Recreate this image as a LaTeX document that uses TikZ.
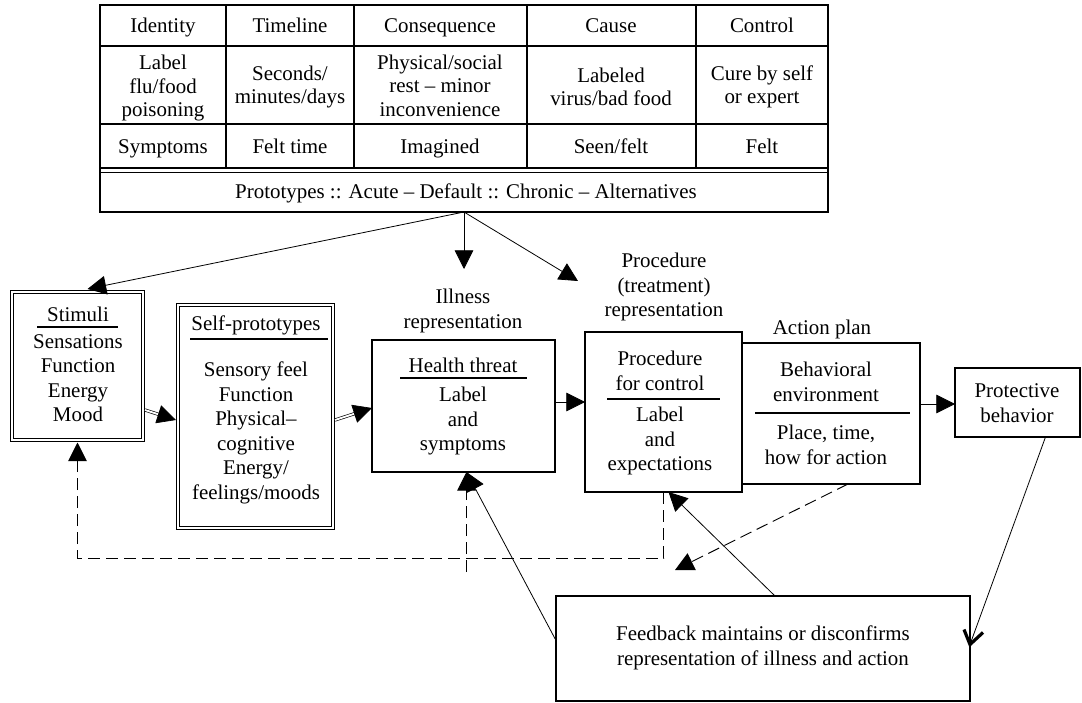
\documentclass[tikz,border=0pt]{standalone}
\usepackage{fontspec}
\setmainfont{Liberation Serif}
\usetikzlibrary{arrows.meta,calc}
\begin{document}
\begin{tikzpicture}[x=0.75pt,y=-0.75pt,
  every node/.style={inner sep=0pt, outer sep=0pt},
  txt/.style={font=\fontsize{15.7}{18.4}\selectfont, align=center},
  ttxt/.style={font=\fontsize{15.7}{17.6}\selectfont, align=center},
  one/.style={text height=10.8pt, text depth=3.4pt},
  box/.style={draw, line width=0.9pt},
  dbox/.style={draw, double, double distance=1.6pt, line width=0.75pt},
  conn/.style={line width=0.6pt},
  tip/.style={-{Triangle[length=14pt,width=14pt]}},
  dtip/.style={double, double distance=1.4pt, line width=0.5pt, -{Triangle[length=14pt,width=14pt]}},
  dashedline/.style={dash pattern=on 9pt off 4.5pt, line width=0.7pt},
  vhead/.style={line width=2.4pt, line join=miter, line cap=butt},
  rule/.style={line width=0.8pt}
]
\useasboundingbox (0,0) rectangle (1082,703);

% ---------- table ----------
\draw[line width=0.9pt] (100,5) rectangle (828,212);
\foreach \y in {46,124} \draw[line width=0.9pt] (100,\y) -- (828,\y);
\draw[line width=1.4pt] (100,168) -- (828,168);
\draw[line width=1.2pt] (100,172.5) -- (828,172.5);
\foreach \x in {226,354,527,696} \draw[line width=0.9pt] (\x,5) -- (\x,168);

\node[ttxt,one] (h1) at (163,28) {Identity};
\node[ttxt,one] (h2) at (290,28) {Timeline};
\node[ttxt,one] (h3) at (440,28) {Consequence};
\node[ttxt,one] (h4) at (611,28) {Cause};
\node[ttxt,one] (h5) at (762,28) {Control};

\node[ttxt] (r1) at (163,88) {Label\\flu/food\\poisoning};
\node[ttxt] (r2) at (290,87) {Seconds/\\minutes/days};
\node[ttxt] (r3) at (440,89) {Physical/social\\rest -- minor\\inconvenience\strut};
\node[ttxt] (r4) at (611,87) {Labeled\\virus/bad food};
\node[ttxt] (r5) at (762,87) {Cure by self\\or expert};

\node[ttxt,one] (s1) at (163,149) {Symptoms};
\node[ttxt,one] (s2) at (290,149) {Felt time};
\node[ttxt,one] (s3) at (440,149) {Imagined};
\node[ttxt,one] (s4) at (611,149) {Seen/felt};
\node[ttxt,one] (s5) at (762,149) {Felt};

\node[ttxt,one] (proto) at (466,194) {Prototypes :: Acute -- Default :: Chronic -- Alternatives};

% ---------- boxes ----------
\node[dbox, minimum width=98.25pt, minimum height=111pt] (stim) at (77.5,366) {};
\node[dbox, minimum width=116.25pt, minimum height=167.25pt] (self) at (255.5,416.5) {};
\node[box, minimum width=137.25pt, minimum height=99pt] (ill) at (463.5,406) {};
\node[box, minimum width=117.75pt, minimum height=120pt] (proc) at (663.5,412) {};
\node[box, minimum width=133.5pt, minimum height=105.75pt] (act) at (831,413.5) {};
\node[box, minimum width=93.75pt, minimum height=51.75pt] (prot) at (1017.5,402.5) {};
\node[box, minimum width=310.5pt, minimum height=78.75pt] (fb) at (763,648.5) {};

% ---------- texts ----------
\node[txt,one] (stimt) at (78,317) {Stimuli};
\draw[rule] (37,327) -- (118,327);
\node[txt] (stiml) at (78,378) {Sensations\\Function\\Energy\\Mood};

\node[txt,one] (selft) at (256,326) {Self-prototypes};
\draw[rule] (190,339) -- (328,339);
\node[txt] (selfl) at (256,433) {Sensory feel\\Function\\Physical--\\cognitive\\Energy/\\feelings/moods};

\node[txt] (illl) at (463,311) {Illness\\representation};
\node[txt,one] (illt) at (463,368) {Health threat};
\draw[rule] (400,378) -- (527,378);
\node[txt] (illb) at (463,421) {Label\\and\\symptoms};

\node[txt] (procl) at (664,287) {Procedure\\(treatment)\\representation};
\node[txt] (proct) at (660,371) {Procedure\\for control};
\draw[rule] (607,399) -- (720,399);
\node[txt] (procb) at (660,441) {Label\\and\\expectations};

\node[txt,one] (actl) at (822,330) {Action plan};
\node[txt] (actt) at (826,382) {Behavioral\\environment};
\draw[rule] (755,413) -- (910,413);
\node[txt] (actb) at (826,445) {Place, time,\\how for action};

\node[txt] (prott) at (1017,403) {Protective\\behavior};
\node[txt] (fbt) at (763,648) {Feedback maintains or disconfirms\\representation of illness and action};

% ---------- connectors ----------
\coordinate (tb) at (464,212);
\coordinate (dn) at (464,269);
\coordinate (dg) at (578,281);
\draw[conn,tip] (tb) -- ($(stim.north)+(10,-3)$);
\draw[conn,tip] (tb) -- (dn);
\draw[conn,tip] (tb) -- (dg);

\draw[dtip] ($(stim.east)+(2,44)$) -- ($(self.west)+(-2,3.5)$);
\draw[dtip] ($(self.east)+(2,3.5)$) -- ($(ill.west)+(0,2)$);

\draw[conn,tip] ($(ill.east)+(0,-4)$) -- ($(proc.west)+(0,-10)$);
\draw[conn,tip] ($(act.east)+(0,-9.5)$) -- ($(prot.west)+(0,1.5)$);

% protective behavior -> feedback (open V head)
\coordinate (ps) at ($(prot.south)+(28,0)$);
\coordinate (fe) at ($(fb.east)+(0,-4)$);
\draw[conn] (ps) -- (fe);
\draw[vhead] ($(fe)+(-6,-15)$) -- (fe) -- ($(fe)+(13,-12)$);

\draw[conn,tip] ($(fb.north)+(12,0)$) -- ($(proc.south)+(5,0)$);
\draw[conn,tip] ($(fb.west)+(0,-8)$) -- ($(ill.south)+(3,0)$);

\coordinate (dv) at (466.5,572);
\coordinate (dend) at (675,570);
\draw[dashedline,tip] (proc.south) -- ++(0,66) -| ($(stim.south)+(0,2.5)$);
\draw[dashedline,tip] (dv) -- ($(ill.south)+(3,0)$);
\draw[dashedline,tip] ($(act.south)+(17,0)$) -- (dend);
\end{tikzpicture}
\end{document}
